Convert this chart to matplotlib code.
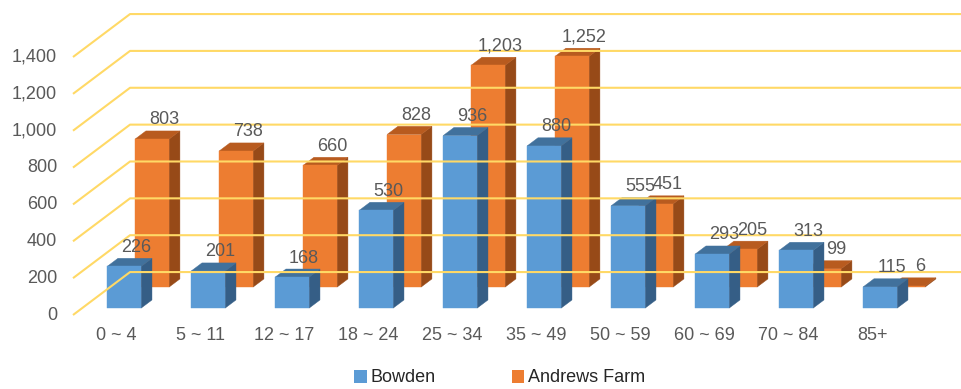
import matplotlib
matplotlib.use("Agg")
import matplotlib.pyplot as plt
from matplotlib.patches import Polygon, Patch
from matplotlib.transforms import offset_copy

plt.rcParams['font.family'] = ['Liberation Sans', 'DejaVu Sans']

categories = ["0 ~ 4", "5 ~ 11", "12 ~ 17", "18 ~ 24", "25 ~ 34",
              "35 ~ 49", "50 ~ 59", "60 ~ 69", "70 ~ 84", "85+"]
bowden = [226, 201, 168, 530, 936, 880, 555, 293, 313, 115]
andrews_farm = [803, 738, 660, 828, 1203, 1252, 451, 205, 99, 6]
y_ticks = [0, 200, 400, 600, 800, 1000, 1200, 1400]

text_color = "#595959"
grid_color = "#FFD966"
fs = 13

# oblique 3D look: one unit of depth moves this far right / up
DX = 0.679
DY = 233.0
BAR_W = 0.405


def proj(x, v, z):
    return (x + z * DX, v + z * DY)


def draw_bar(ax, xc, value, z0, z1, front, top, side):
    x0, x1 = xc - BAR_W / 2, xc + BAR_W / 2
    face = [proj(x0, 0, z0), proj(x1, 0, z0), proj(x1, value, z0), proj(x0, value, z0)]
    lid = [proj(x0, value, z0), proj(x1, value, z0), proj(x1, value, z1), proj(x0, value, z1)]
    wall = [proj(x1, 0, z0), proj(x1, 0, z1), proj(x1, value, z1), proj(x1, value, z0)]
    for pts, c in [(wall, side), (lid, top), (face, front)]:
        ax.add_patch(Polygon(pts, closed=True, facecolor=c, edgecolor=c,
                             linewidth=0.3, clip_on=False))


fig = plt.figure(figsize=(9.61, 3.89), dpi=100)
ax = fig.add_axes([73 / 961, 74 / 389, 840 / 961, 258 / 389])
ax.set_xlim(0, 10)
ax.set_ylim(0, 1400)
ax.axis("off")

# gridlines: left wall diagonal then back wall horizontal
for v in y_ticks:
    a = proj(0, v, 0)
    b = proj(0, v, 1)
    c = proj(12, v, 1)
    ax.plot([a[0], b[0], c[0]], [a[1], b[1], c[1]], color=grid_color,
            lw=1.5, clip_on=False, solid_capstyle="butt")
    lab = offset_copy(ax.transData, fig=fig, x=-16, y=0, units="dots")
    ax.text(0, v, f"{v:,}", transform=lab, ha="right", va="center",
            fontsize=fs, color=text_color)

# back series first, then front series
for i, v in enumerate(andrews_farm):
    draw_bar(ax, i + 0.5, v, 0.65, 0.84, "#ED7D31", "#B85B1F", "#974A18")
for i, v in enumerate(bowden):
    draw_bar(ax, i + 0.5, v, 0.16, 0.35, "#5B9BD5", "#41719C", "#355E86")

for vals, zb in [(andrews_farm, 0.84), (bowden, 0.35)]:
    for i, v in enumerate(vals):
        px, py = proj(i + 0.5, v, zb)
        tr = offset_copy(ax.transData, fig=fig, x=1, y=11, units="dots")
        ax.text(px, py, f"{v:,}", transform=tr, ha="center", va="center",
                fontsize=fs, color=text_color)

for i, cat in enumerate(categories):
    tr = offset_copy(ax.transData, fig=fig, x=1, y=-20, units="dots")
    ax.text(i + 0.5, 0, cat, transform=tr, ha="center", va="center",
            fontsize=fs, color=text_color)

handles = [Patch(facecolor="#5B9BD5", label="Bowden"),
           Patch(facecolor="#ED7D31", label="Andrews Farm")]
fig.legend(handles=handles, loc="center", bbox_to_anchor=(0.52, 11 / 389),
           ncol=2, frameon=False, fontsize=fs, labelcolor="#262626",
           handlelength=0.7, handleheight=0.7, handletextpad=0.2,
           columnspacing=4.2)

fig.savefig("out.png", dpi=100)
